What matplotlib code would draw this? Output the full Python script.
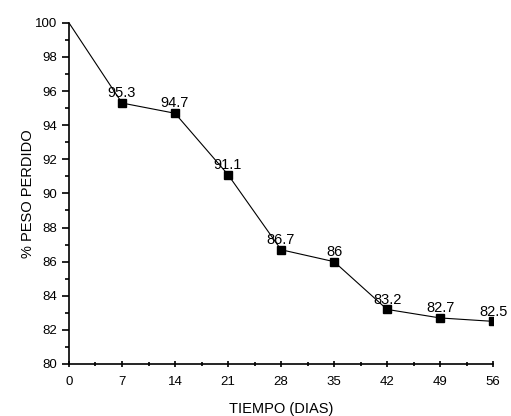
import matplotlib.pyplot as plt
from matplotlib.ticker import MultipleLocator

plt.rcParams['font.family'] = ['Liberation Sans', 'DejaVu Sans']

dias = [0, 7, 14, 21, 28, 35, 42, 49, 56]
peso = [100, 95.3, 94.7, 91.1, 86.7, 86, 83.2, 82.7, 82.5]
etiquetas = ['95.3', '94.7', '91.1', '86.7', '86', '83.2', '82.7', '82.5']

fig = plt.figure(figsize=(5.11, 4.16), dpi=100)
ax = fig.add_axes([0.135, 0.125, 0.83, 0.82])

ax.plot(dias, peso, color='black', lw=0.8)
ax.plot(dias[1:], peso[1:], 's', color='black', ms=6)

for x, y, t in zip(dias[1:], peso[1:], etiquetas):
    ax.annotate(t, (x, y), xytext=(0, 2), textcoords='offset points',
                ha='center', va='bottom', fontsize=10.5)

ax.set_xlim(0, 56)
ax.set_ylim(80, 100)
ax.xaxis.set_major_locator(MultipleLocator(7))
ax.xaxis.set_minor_locator(MultipleLocator(3.5))
ax.yaxis.set_major_locator(MultipleLocator(2))
ax.yaxis.set_minor_locator(MultipleLocator(1))

for s in ['left', 'bottom']:
    ax.spines[s].set_linewidth(1.2)
ax.spines['top'].set_visible(False)
ax.spines['right'].set_visible(False)
ax.tick_params(axis='x', which='both', direction='inout', labelsize=9.5, pad=6)
ax.tick_params(axis='y', which='both', direction='out', labelsize=9.5)
ax.tick_params(which='major', length=5, width=1.2)
ax.tick_params(which='minor', length=3, width=1.2)

ax.set_xlabel('TIEMPO (DIAS)', fontsize=10.5, labelpad=10)
ax.set_ylabel('% PESO PERDIDO', fontsize=10.5, labelpad=0)

fig.savefig('out.png')
